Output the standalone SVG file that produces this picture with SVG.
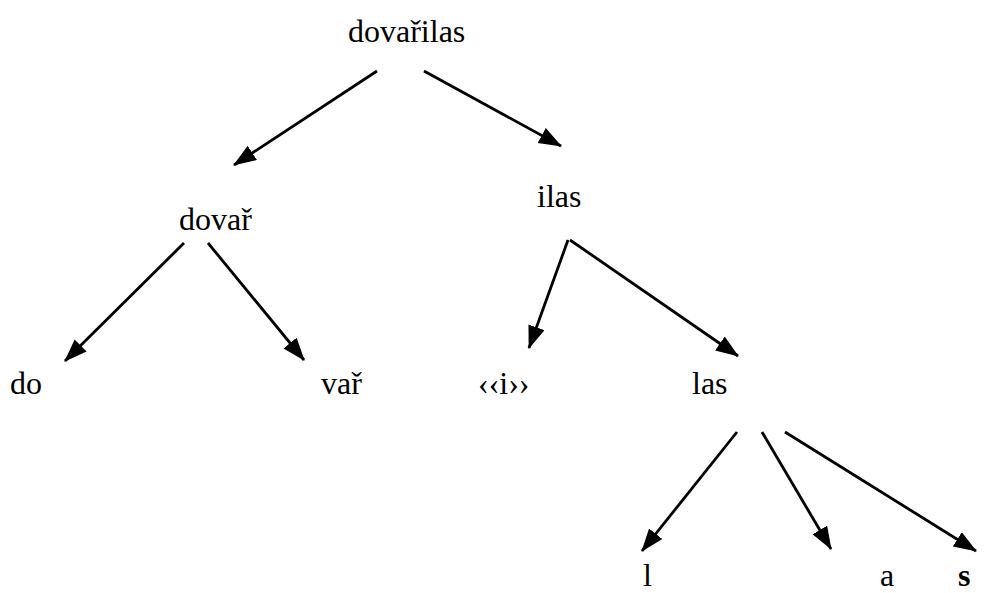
<svg xmlns="http://www.w3.org/2000/svg" width="985" height="593" viewBox="0 0 985 593">
<style>
text{font-family:"Liberation Serif","Times New Roman",serif;font-size:32px;fill:#000}
.e line{stroke:#000;stroke-width:2.8;marker-end:url(#ah)}
</style>
<defs>
<marker id="ah" markerUnits="userSpaceOnUse" markerWidth="24" markerHeight="18" refX="22" refY="8.5" orient="auto">
<path d="M0,0 L23,8.5 L0,17 z" fill="#000"/>
</marker>
</defs>
<rect width="985" height="593" fill="#fff"/>
<g class="e" id="connectors">
<line x1="377" y1="71" x2="234" y2="165"/>
<line x1="424" y1="71" x2="561" y2="146"/>
<line x1="184" y1="243" x2="65" y2="361"/>
<line x1="208" y1="243" x2="304" y2="360"/>
<line x1="568" y1="240" x2="529" y2="348"/>
<line x1="570" y1="240" x2="738" y2="356"/>
<line x1="737" y1="432" x2="642" y2="551"/>
<line x1="762" y1="432" x2="831" y2="549"/>
<line x1="785" y1="432" x2="976" y2="551"/>
</g>
<g id="n-dovarilas"><text x="348" y="42">dovařilas</text></g>
<g id="n-dovar"><text x="179" y="230">dovař</text></g>
<g id="n-ilas"><text x="537" y="207">ilas</text></g>
<g id="n-do"><text x="10" y="394">do</text></g>
<g id="n-var"><text x="321" y="394">vař</text></g>
<g id="n-i"><text x="478" y="394">‹‹i››</text></g>
<g id="n-las"><text x="692" y="394">las</text></g>
<g id="n-l"><text x="643" y="586">l</text></g>
<g id="n-a"><text x="880" y="586">a</text></g>
<g id="n-s"><text x="958" y="586" font-weight="bold">s</text></g>
</svg>
